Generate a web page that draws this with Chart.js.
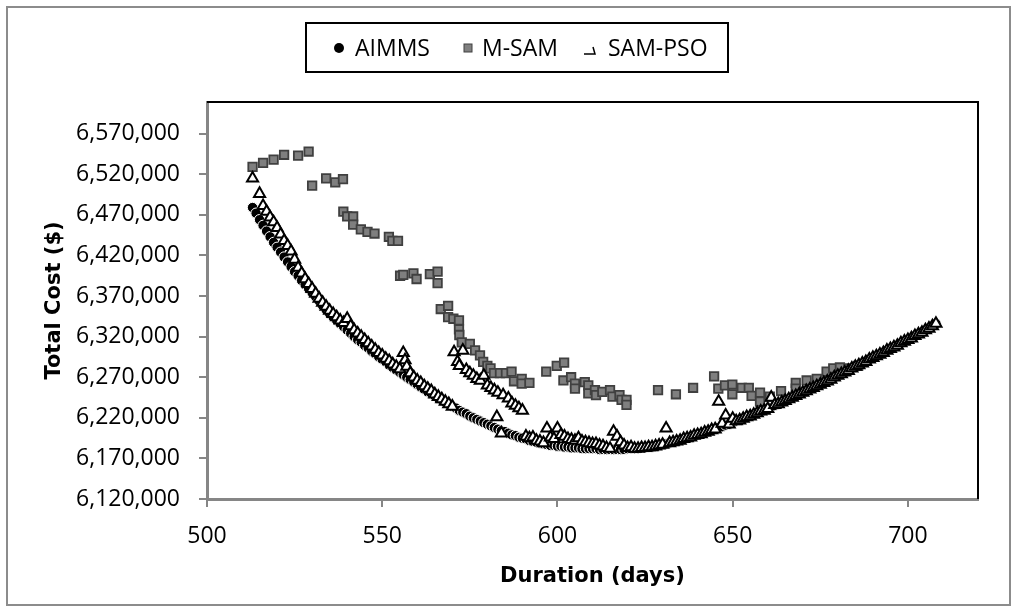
<!DOCTYPE html>
<html>
<head>
<meta charset="utf-8">
<script src="https://cdn.jsdelivr.net/npm/chart.js@4.4.1/dist/chart.umd.min.js"></script>
<style>
  html, body { margin: 0; padding: 0; background: #ffffff; }
  #wrap { width: 1017px; height: 612px; position: relative; }
</style>
</head>
<body>
<div id="wrap"><canvas id="c" width="1017" height="612"></canvas></div>
<script>
// ---------------- data ----------------
const seriesNames = ['AIMMS', 'M-SAM', 'SAM-PSO'];
const xTicks = [500, 550, 600, 650, 700];
const yTicks = [6120000, 6170000, 6220000, 6270000, 6320000, 6370000, 6420000, 6470000, 6520000, 6570000];
const xTitle = 'Duration (days)';
const yTitle = 'Total Cost ($)';

const aimmsDays = [
  513,514,515,516,517,518,519,520,521,522,523,524,525,526,527,528,529,530,531,532,
  533,534,535,536,537,538,539,540,541,542,543,544,545,546,547,548,549,550,551,552,
  553,554,555,556,557,558,559,560,561,562,563,564,565,566,567,568,569,570,571,572,
  573,574,575,576,577,578,579,580,581,582,583,584,585,586,587,588,589,590,591,592,
  593,594,595,596,597,598,599,600,601,602,603,604,605,606,607,608,609,610,611,612,
  613,614,615,616,617,618,619,620,621,622,623,624,625,626,627,628,629,630,631,632,
  633,634,635,636,637,638,639,640,641,642,643,644,645,646,647,648,649,650,651,652,
  653,654,655,656,657,658,659,660,661,662,663,664,665,666,667,668,669,670,671,672,
  673,674,675,676,677,678,679,680,681,682,683,684,685,686,687,688,689,690,691,692,
  693,694,695,696,697,698,699,700,701,702,703,704,705,706,707,708
];
const aimmsCost = [
  6479000,6472000,6464000,6457000,6450000,6443000,6436000,6430000,6424000,6418000,6412000,6406000,6400000,6395000,6389000,6384000,6379000,6374000,6369000,6364000,
  6358000,6353000,6348000,6344000,6340000,6336000,6332000,6328000,6324000,6320000,6316000,6313000,6309000,6306000,6302000,6299000,6295000,6292000,6289000,6285000,
  6282000,6279000,6276000,6273000,6270000,6267000,6264000,6261000,6258000,6255000,6252000,6250000,6247000,6244000,6242000,6239000,6237000,6234000,6232000,6229000,
  6227000,6225000,6222000,6220000,6218000,6216000,6214000,6212000,6210000,6208000,6206000,6204000,6203000,6201000,6199000,6198000,6196000,6195000,6194000,6192000,
  6191000,6190000,6189000,6188000,6187000,6186000,6186000,6185000,6185000,6184000,6184000,6183000,6183000,6183000,6182000,6182000,6182000,6182000,6182000,6181000,
  6181000,6181000,6181000,6181000,6181000,6181000,6181000,6182000,6182000,6182000,6182000,6183000,6183000,6184000,6184000,6185000,6186000,6187000,6188000,6189000,
  6190000,6191000,6192000,6194000,6195000,6196000,6198000,6199000,6200000,6202000,6203000,6205000,6206000,6208000,6209000,6211000,6212000,6214000,6216000,6217000,
  6219000,6221000,6222000,6224000,6226000,6228000,6229000,6231000,6233000,6235000,6237000,6239000,6241000,6243000,6245000,6247000,6249000,6251000,6253000,6255000,
  6257000,6259000,6261000,6263000,6265000,6267000,6270000,6272000,6274000,6276000,6278000,6281000,6283000,6285000,6287000,6289000,6292000,6294000,6296000,6298000,
  6300000,6303000,6305000,6307000,6309000,6312000,6314000,6316000,6318000,6321000,6323000,6325000,6328000,6330000,6333000,6336000
];

const msamDays = [
  513,516,519,522,526,529,530,534,536.6,538.8,538.9,540,541.7,541.7,543.9,545.8,547.8,551.9,552.9,554.5,
  555.1,556,558.9,559.8,563.6,565.8,565.8,566.7,568.8,568.8,570.3,571.9,571.9,572,572.7,575,576.5,577.9,578.8,580,
  580.9,581.9,583.6,585.3,586.9,587.6,589.8,589.8,592,596.8,599.8,601.9,601.7,603.9,605,605,607.8,608.8,608.8,610.7,
  611,612.8,615,615.7,617.7,618.3,619.7,619.7,628.7,633.8,638.7,644.7,645.9,647.8,649.9,649.9,652.6,654.6,655.4,657.8,
  657.8,660.6,663.8,668,668,671.1,674,676.8,678.7,680.6,683,685.8
];
const msamCost = [
  6529000,6534000,6538000,6544000,6543000,6548000,6506000,6515000,6510000,6514000,6474000,6468000,6468000,6458000,6452000,6449000,6447000,6443000,6438000,6438000,
  6395000,6396000,6398000,6391000,6397000,6400000,6386000,6354000,6358000,6344000,6342000,6340000,6329000,6322000,6313000,6311000,6303000,6297000,6289000,6284000,
  6281000,6275000,6275000,6275000,6277000,6265000,6268000,6262000,6263000,6277000,6284000,6288000,6266000,6270000,6262000,6256000,6264000,6260000,6250000,6254000,
  6248000,6252000,6254000,6246000,6248000,6242000,6242000,6236000,6254000,6249000,6257000,6271000,6256000,6260000,6261000,6249000,6257000,6257000,6247000,6251000,
  6240000,6246000,6253000,6263000,6256000,6266000,6268000,6277000,6281000,6282000,6281000,6284000
];

const psoDays = [
  513,515,516,517,518,519,520,521,522,523,524,525,526,527,528,529,530,531,532,533,
  534,535,536,537,538,539,540,541,542,543,544,545,546,547,548,549,550,551,552,553,
  554,555,556,556.5,557,558,559,560,561,562,563,564,565,566,567,568,569,570,570.5,571.5,
  572,573,574,575,576,577,578,579,580,581,582,582.7,583,584,584.5,586,587,588,589,590,
  591,592,593,594,595,596,597,598,599,600,601,602,603,604,605,606,607,608,609,610,
  611,612,613,614,615,616,617,618,619,620,621,622,623,624,625,626,627,628,629,630,
  631,632,633,634,635,636,637,638,639,640,641,642,643,644,645,646,647,648,649,650,
  651,652,653,654,655,656,657,658,659,660,661,662,663,664,665,666,667,668,669,670,
  671,672,673,674,675,676,677,678,679,680,681,682,683,684,685,686,687,688,689,690,
  691,692,693,694,695,696,697,698,699,700,701,702,703,704,705,706,707,708
];
const psoCost = [
  6515000,6496000,6481000,6474000,6467000,6461000,6454000,6446000,6438000,6432000,6425000,6415000,6405000,6398000,6391000,6385000,6379000,6373000,6367000,6362000,
  6357000,6352000,6348000,6344000,6340000,6337000,6342000,6333000,6328000,6324000,6320000,6316000,6312000,6308000,6304000,6300000,6297000,6293000,6290000,6286000,
  6283000,6280000,6300000,6291000,6283000,6275000,6270000,6266000,6263000,6259000,6256000,6253000,6249000,6246000,6243000,6240000,6237000,6234000,6301000,6289000,
  6284000,6303000,6279000,6275000,6272000,6268000,6266000,6272000,6260000,6257000,6254000,6221000,6251000,6201000,6248000,6244000,6238000,6235000,6232000,6229000,
  6197000,6195000,6196000,6192000,6191000,6189000,6207000,6196000,6194000,6207000,6199000,6197000,6194000,6193000,6192000,6195000,6191000,6190000,6189000,6188000,
  6188000,6186000,6185000,6183000,6182000,6203000,6197000,6190000,6186000,6183000,6184000,6182000,6182000,6183000,6183000,6184000,6184000,6185000,6186000,6187000,
  6207000,6189000,6190000,6191000,6192000,6194000,6195000,6196000,6198000,6199000,6200000,6202000,6203000,6205000,6206000,6240000,6213000,6223000,6212000,6219000,
  6216000,6217000,6219000,6221000,6222000,6224000,6226000,6228000,6229000,6231000,6245000,6236000,6237000,6239000,6241000,6243000,6245000,6247000,6249000,6251000,
  6253000,6255000,6257000,6259000,6261000,6263000,6265000,6267000,6270000,6272000,6274000,6276000,6278000,6281000,6283000,6285000,6287000,6289000,6292000,6294000,
  6296000,6298000,6300000,6303000,6305000,6307000,6309000,6312000,6314000,6316000,6318000,6321000,6323000,6325000,6328000,6330000,6333000,6336000
];

// ---------------- chart ----------------
const pts = (xs, ys) => xs.map((x, i) => ({ x: x, y: ys[i] }));
const tickFont = { family: "'Open Sans', sans-serif", size: 23 };
const titleFont = { family: "'DejaVu Sans', sans-serif", size: 21, weight: 'bold' };

const framePlugin = {
  id: 'frame',
  beforeDraw(chart) {
    const c = chart.ctx;
    c.save();
    c.fillStyle = '#ffffff';
    c.fillRect(0, 0, chart.width, chart.height);
    c.restore();
  },
  afterDraw(chart) {
    const c = chart.ctx;
    const a = chart.chartArea;
    c.save();
    c.strokeStyle = '#000000';
    c.lineWidth = 2;
    c.beginPath();
    c.moveTo(a.left, a.top);
    c.lineTo(a.right, a.top);
    c.lineTo(a.right, a.bottom);
    c.stroke();
    c.strokeStyle = '#8c8c8c';
    c.lineWidth = 2;
    c.strokeRect(7, 7, 1003, 598);
    c.strokeStyle = '#000000';
    c.lineWidth = 2;
    c.strokeRect(306, 23, 422, 49);
    c.fillStyle = '#000000';
    c.beginPath(); c.arc(339, 48, 5, 0, Math.PI * 2); c.fill();
    c.fillStyle = '#808080'; c.strokeStyle = '#404040'; c.lineWidth = 1;
    c.fillRect(464, 44, 8, 8); c.strokeRect(464, 44, 8, 8);
    c.strokeStyle = '#000000'; c.lineWidth = 1.5;
    c.beginPath(); c.moveTo(584, 54); c.lineTo(595, 54); c.lineTo(593, 47); c.stroke();
    c.fillStyle = '#000000';
    c.font = "23px 'Open Sans', sans-serif";
    c.textBaseline = 'alphabetic';
    c.textAlign = 'left';
    c.fillText(seriesNames[0], 355, 56);
    c.fillText(seriesNames[1], 482, 56);
    c.fillText(seriesNames[2], 608, 56);
    c.restore();
  }
};

new Chart(document.getElementById('c'), {
  type: 'scatter',
  data: {
    datasets: [
      { label: seriesNames[0], data: pts(aimmsDays, aimmsCost), pointStyle: 'circle', pointRadius: 5.2,
        pointBackgroundColor: '#000000', pointBorderColor: '#ffffff', pointBorderWidth: 1, order: 3 },
      { label: seriesNames[1], data: pts(msamDays, msamCost), pointStyle: 'rect', pointRadius: 6,
        pointBackgroundColor: '#7f7f7f', pointBorderColor: '#404040', pointBorderWidth: 1.8, order: 2 },
      { label: seriesNames[2], data: pts(psoDays, psoCost), pointStyle: 'triangle', pointRadius: 6.4,
        pointBackgroundColor: '#ffffff', pointBorderColor: '#000000', pointBorderWidth: 2, order: 1 }
    ]
  },
  options: {
    responsive: false,
    animation: false,
    devicePixelRatio: 1,
    events: [],
    layout: { padding: { left: 10, right: 39, top: 102, bottom: 10 } },
    plugins: { legend: { display: false }, tooltip: { enabled: false } },
    scales: {
      x: {
        type: 'linear', min: 500, max: 720,
        afterBuildTicks: s => { s.ticks = xTicks.map(v => ({ value: v })); },
        afterFit: s => { s.height = 103; },
        grid: { drawOnChartArea: false, drawTicks: true, tickLength: 8, color: '#868686', lineWidth: 2 },
        border: { display: true, color: '#868686', width: 3 },
        ticks: { font: tickFont, color: '#000000', padding: 16, maxRotation: 0, autoSkip: false },
        title: { display: true, text: xTitle, font: titleFont, color: '#000000', padding: { top: 0, bottom: 12.4 } }
      },
      y: {
        type: 'linear', min: 6120000, max: 6609000,
        afterBuildTicks: s => { s.ticks = yTicks.map(v => ({ value: v })); },
        afterFit: s => { s.width = 197; },
        grid: { drawOnChartArea: false, drawTicks: true, tickLength: 8, color: '#868686', lineWidth: 2 },
        border: { display: true, color: '#868686', width: 3 },
        ticks: { font: tickFont, color: '#000000', padding: 19, autoSkip: false,
          callback: v => v.toLocaleString('en-US') },
        title: { display: true, text: yTitle, font: titleFont, color: '#000000', padding: { top: 32.4, bottom: 0 } }
      }
    }
  },
  plugins: [framePlugin]
});
</script>
</body>
</html>
